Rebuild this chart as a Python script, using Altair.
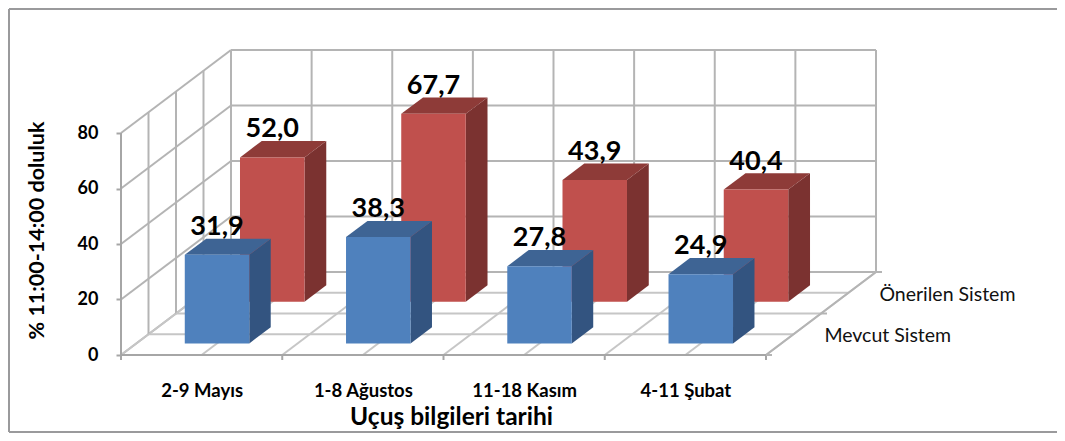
import altair as alt
import pandas as pd

categories = ["2-9 Mayıs", "1-8 Ağustos", "11-18 Kasım", "4-11 Şubat"]
mevcut = [31.9, 38.3, 27.8, 24.9]
onerilen = [52.0, 67.7, 43.9, 40.4]
ticks = [0, 20, 40, 60, 80]

W, H = 1049, 425
PX_U, PX_V = 161.25, 2.775      # pixels per category / per percent
DX, DY = 110.0, 83.0            # pixels of the full depth of the floor
X0, Y0 = 121.0, 355.0           # image position of the front corner (u=0, v=0)

ux = lambda px: (px - X0) / PX_U
vy = lambda py: (Y0 - py) / PX_V
sx = alt.Scale(domain=[ux(8), ux(8 + W)], range=[0, W], nice=False, zero=False)
sy = alt.Scale(domain=[vy(8 + H), vy(8)], range=[H, 0], nice=False, zero=False)

def P(u, d, v):
    return u + d * DX / PX_U, v + d * DY / PX_V

def seg(a, b, c="#b4b4b4", w=2.0):
    (x, y), (x2, y2) = P(*a), P(*b)
    return dict(x=x, y=y, x2=x2, y2=y2, c=c, w=w)

n = len(categories)
vmax = ticks[-1]
rows = []
for v in ticks:
    rows.append(seg((0, 1, v), (n, 1, v)))
    rows.append(seg((0, 0, v), (0, 1, v)))
for k in range(2 * n + 1):
    rows.append(seg((k / 2, 1, 0), (k / 2, 1, vmax)))
    rows.append(seg((k / 2, 0, 0), (k / 2, 1, 0), "#c6c6c6"))
for k in range(1, 4):
    rows.append(seg((0, k / 4, 0), (0, k / 4, vmax)))
    rows.append(seg((0, k / 4, 0), (n, k / 4, 0), "#c6c6c6"))
rows.append(seg((n, 0, 0), (n, 1, 0), "#b4b4b4"))
rows.append(seg((0, 0, 0), (n, 0, 0), "#a6a6a6"))
rows.append(seg((0, 0, 0), (0, 0, vmax), "#a6a6a6"))
for k in range(n + 1):
    a = P(k, 0, 0)
    rows.append(dict(x=a[0], y=a[1], x2=a[0], y2=a[1] - 5 / PX_V, c="#a6a6a6", w=2.0))
for d in (0, 0.5, 1):
    a = P(n, d, 0)
    rows.append(dict(x=a[0], y=a[1], x2=a[0] + 6 / PX_U, y2=a[1], c="#b4b4b4", w=2.0))
# outer frame: left, top and bottom edges only
fl, fr_, ft, fb = ux(9), ux(8 + W), vy(9), vy(432)
frame_col = "#9a9a9c"
rows.append(dict(x=fl, y=ft, x2=fr_, y2=ft, c=frame_col, w=2.0))
rows.append(dict(x=fl, y=fb, x2=fr_, y2=fb, c=frame_col, w=2.0))
rows.append(dict(x=fl, y=ft, x2=fl, y2=fb, c=frame_col, w=2.0))
grid = pd.DataFrame(rows)

xaxis = alt.Axis(
    values=[i + 0.5 for i in range(n)],
    labelExpr="[" + ",".join(f"'{c}'" for c in categories) + "][floor(datum.value)]",
    offset=-(8 + H - Y0), orient="bottom", domain=False, ticks=False, grid=False,
    labelPadding=26, labelFont="Lato", labelFontWeight="bold", labelFontSize=18.5, labelColor="#000",
    title="Uçuş bilgileri tarihi", titleFont="Lato", titleFontWeight="bold", titleFontSize=24.5,
    titleColor="#000", titleX=443, titleY=62, titleBaseline="middle", titleAnchor="middle",
)
yaxis = alt.Axis(
    values=ticks, offset=-(X0 - 8), orient="left", domain=False, grid=False,
    tickSize=5, tickColor="#a6a6a6", tickWidth=2, labelPadding=18,
    labelFont="Lato", labelFontWeight="bold", labelFontSize=18, labelColor="#000",
    title="% 11:00-14:00 doluluk", titleFont="Lato", titleFontWeight="bold", titleFontSize=21.5,
    titleColor="#000", titleX=-84, titleY=222, titleBaseline="middle", titleAnchor="middle",
)
X = alt.X("x:Q", scale=sx, axis=xaxis)
Y = alt.Y("y:Q", scale=sy, axis=yaxis)

layers = [
    alt.Chart(grid).mark_rule().encode(
        x=X, x2="x2:Q", y=Y, y2="y2:Q",
        color=alt.Color("c:N", scale=None), strokeWidth=alt.StrokeWidth("w:Q", scale=None),
    )
]

BAR = 0.4
series = [
    (onerilen, 0.642, 0.84, "#C0504D", "#7B3230", "#8E3B38"),
    (mevcut, 0.14, 0.335, "#4F81BD", "#335480", "#3E6494"),
]
label_rows = []
for vals, d0, d1, front, side, top in series:
    fr, sd, tp = [], [], []
    for i, v in enumerate(vals):
        a, b = i + 0.5 - BAR / 2, i + 0.5 + BAR / 2
        x, y0 = P(a, d0, 0)
        x2, y1 = P(b, d0, v)
        fr.append(dict(x=x, x2=x2, y=y0, y2=y1))
        for d in (d0, d1):
            sx_, lo = P(b, d, 0)
            _, hi = P(b, d, v)
            sd.append(dict(x=sx_, y=lo, y2=hi, k=i))
            xa, ya = P(a, d, v)
            xb, _ = P(b, d, v)
            tp.append(dict(x=xa, x2=xb, y=ya, k=i))
        label_rows.append(dict(x=(x + x2) / 2, y=y1, t=f"{v:.1f}".replace(".", ",")))
    layers.append(alt.Chart(pd.DataFrame(sd)).mark_area(color=side, orient="vertical").encode(
        x=X, y=Y, y2="y2:Q", detail="k:N"))
    layers.append(alt.Chart(pd.DataFrame(tp)).mark_area(color=top, orient="horizontal").encode(
        x=X, x2="x2:Q", y=Y, detail="k:N"))
    layers.append(alt.Chart(pd.DataFrame(fr)).mark_rect(color=front).encode(
        x=X, x2="x2:Q", y=Y, y2="y2:Q"))

layers.append(alt.Chart(pd.DataFrame(label_rows)).mark_text(
    font="Lato", fontWeight="bold", fontSize=27, color="#000", dy=-28, baseline="middle"
).encode(x=X, y=Y, text="t:N"))

names = ["Mevcut Sistem", "Önerilen Sistem"]
name_pos = [P(n, 0.24, 0), P(n, 0.74, 0)]
name_df = pd.DataFrame([dict(x=p[0] + 32 / PX_U, y=p[1], t=t) for p, t in zip(name_pos, names)])
layers.append(alt.Chart(name_df).mark_text(
    font="Lato", fontSize=19.5, color="#111", align="left", baseline="middle", dy=1
).encode(x=X, y=Y, text="t:N"))

chart = alt.layer(*layers).properties(
    width=W, height=H, padding=0, autosize=alt.AutoSizeParams(type="none"),
    background="#ffffff",
).configure_view(stroke=None)

chart.save("out.html", embed_options={"renderer": "svg", "actions": False})
